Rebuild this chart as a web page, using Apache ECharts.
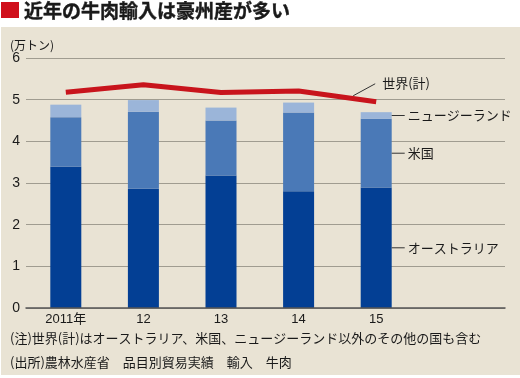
<!DOCTYPE html>
<html><head><meta charset="utf-8">
<script src="https://cdn.jsdelivr.net/npm/echarts@6/dist/echarts.min.js"></script>
<style>html,body{margin:0;padding:0;background:#fff}#c{width:520px;height:378px}</style>
</head><body><div id="c"></div>
<script>
var categories = ['2011年', '12', '13', '14', '15'];
var australia = [3.39, 2.86, 3.18, 2.80, 2.89];
var usa = [1.19, 1.85, 1.32, 1.89, 1.65];
var newZealand = [0.30, 0.28, 0.31, 0.24, 0.16];
var world = [5.18, 5.36, 5.17, 5.21, 4.95];
var yTicks = [0, 1, 2, 3, 4, 5, 6];

var FONT = "'Liberation Sans','Noto Sans CJK JP',sans-serif";
var JP = "'Noto Sans CJK JP',sans-serif";
var chart = echarts.init(document.getElementById('c'), null, {renderer: 'canvas'});

function barData(arr, name) {
  return arr.map(function (v, i) {
    var d = {value: v};
    if (i === arr.length - 1) {
      d.label = {
        show: true, position: 'right', distance: 0,
        formatter: '{l|}{t|' + name + '}',
        rich: {
          l: {width: 13, height: 1, backgroundColor: '#333', verticalAlign: 'middle'},
          t: {fontSize: 13, fontFamily: JP, color: '#1a1a1a', padding: [0, 0, 0, 3], verticalAlign: 'middle'}
        }
      };
    }
    return d;
  });
}

var option = {
  backgroundColor: '#ffffff',
  animation: false,
  grid: [
    {left: 26, right: 15, top: 58, bottom: 70},
    {left: 27, right: 105, top: 58, bottom: 70}
  ],
  xAxis: [
    {gridIndex: 0, type: 'value', min: 0, max: 1, z: 10,
     axisLine: {show: true, onZero: false, lineStyle: {color: '#555', width: 1.5}},
     axisTick: {show: false}, splitLine: {show: false}, axisLabel: {show: false}},
    {gridIndex: 1, type: 'category', data: categories,
     axisLine: {show: false}, axisTick: {show: false},
     axisLabel: {fontSize: 13, fontFamily: FONT, color: '#1a1a1a', margin: 5}}
  ],
  yAxis: [
    {gridIndex: 0, type: 'value', min: 0, max: 6, interval: 1,
     axisLine: {show: false}, axisTick: {show: false},
     splitLine: {show: true, lineStyle: {color: '#a09c90', width: 1}},
     axisLabel: {fontSize: 14, fontFamily: FONT, color: '#1a1a1a', margin: 6,
       formatter: function (v) { return yTicks.indexOf(v) >= 0 ? String(v) : ''; }}},
    {gridIndex: 1, type: 'value', min: 0, max: 6, interval: 1, show: false}
  ],
  series: [
    {name: 'オーストラリア', type: 'bar', stack: 'a', barWidth: 31, xAxisIndex: 1, yAxisIndex: 1,
     itemStyle: {color: '#033f94'}, data: barData(australia, 'オーストラリア')},
    {name: '米国', type: 'bar', stack: 'a', barWidth: 31, xAxisIndex: 1, yAxisIndex: 1,
     itemStyle: {color: '#4a79b7'}, data: barData(usa, '米国')},
    {name: 'ニュージーランド', type: 'bar', stack: 'a', barWidth: 31, xAxisIndex: 1, yAxisIndex: 1,
     itemStyle: {color: '#9bb5d9'}, data: barData(newZealand, 'ニュージーランド')},
    {name: '世界(計)', type: 'line', symbol: 'none', z: 5, xAxisIndex: 1, yAxisIndex: 1,
     lineStyle: {color: '#c8141c', width: 5},
     data: world}
  ]
};
chart.setOption(option);

var end = chart.convertToPixel({xAxisIndex: 1, yAxisIndex: 1}, [world.length - 1, world[world.length - 1]]);
chart.setOption({
  graphic: [
    {type: 'rect', z: -100, silent: true, shape: {x: 1, y: 27, width: 519, height: 348}, style: {fill: '#e9e3d4'}},
    {type: 'rect', shape: {x: 1, y: 2, width: 18, height: 16}, style: {fill: '#d0101c'}},
    {type: 'text', x: 24, y: 10.5, style: {text: '近年の牛肉輸入は豪州産が多い', font: 'bold 19px ' + JP, fill: '#1a1a1a', textVerticalAlign: 'middle', stroke: '#1a1a1a', lineWidth: 0.4}},
    {type: 'text', x: 10, y: 45, style: {text: '(万トン)', font: '12px ' + JP, fill: '#1a1a1a', textVerticalAlign: 'middle'}},
    {type: 'line', shape: {x1: end[0] - 23, y1: end[1] - 6, x2: end[0] - 1, y2: end[1] - 18}, style: {stroke: '#333', lineWidth: 1}},
    {type: 'text', x: end[0] + 6, y: end[1] - 19, style: {text: '世界(計)', font: '13px ' + JP, fill: '#1a1a1a', textVerticalAlign: 'middle'}},
    {type: 'text', x: 10, y: 338, style: {text: '(注)世界(計)はオーストラリア、米国、ニュージーランド以外のその他の国も含む', font: '13px ' + JP, fill: '#1a1a1a', textVerticalAlign: 'middle'}},
    {type: 'text', x: 10, y: 362, style: {text: '(出所)農林水産省　品目別貿易実績　輸入　牛肉', font: '13px ' + JP, fill: '#1a1a1a', textVerticalAlign: 'middle'}}
  ]
});
</script></body></html>
